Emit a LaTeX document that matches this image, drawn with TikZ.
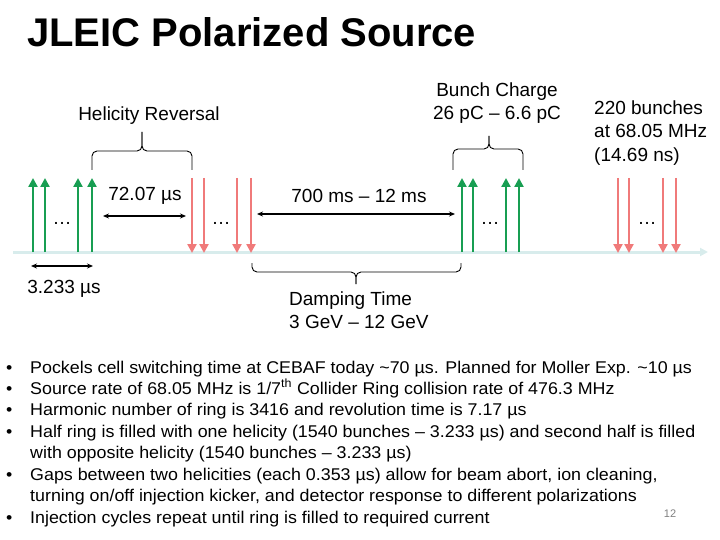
\documentclass[tikz,border=0pt]{standalone}
\usepackage{fontspec}
\setmainfont{Liberation Sans}
\newfontfamily\notefont[FakeStretch=1.05]{Liberation Sans}
\usetikzlibrary{arrows.meta}
\definecolor{bunchgreen}{RGB}{24,158,82}
\definecolor{bunchred}{RGB}{240,122,122}
\definecolor{axiscol}{RGB}{216,236,236}

\begin{document}
\begin{tikzpicture}[x=1pt,y=-1pt]
        \tikzset{bunchup/.style = {-{Triangle[width=9pt,length=9pt]}, line width=2.6pt, bunchgreen}}
        \tikzset{bunchdown/.style = {-{Triangle[width=9pt,length=9pt]}, line width=2.6pt, bunchred}}
        \tikzset{dimline/.style = {{Stealth[length=6pt,width=5pt]}-{Stealth[length=6pt,width=5pt]}, line width=1.1pt}}
        \tikzset{txt/.style = {font=\fontsize{19}{23.5}\selectfont, align=center, inner sep=0pt}}
        \tikzset{bracket/.style = {draw, line width=0.9pt, rounded corners=5pt}}
        \tikzset{bullet/.style = {font=\notefont\fontsize{17}{20}\selectfont, anchor=base west, inner sep=0pt}}
        \useasboundingbox (0,0) rectangle (720,540);
        % title
        \node[font=\bfseries\fontsize{40}{48}\selectfont, anchor=base west, inner sep=0pt] (title) at (27,47) {JLEIC Polarized Source};
        % time axis
        \coordinate (t0) at (13,252);
        \coordinate (t1) at (708,252);
        \draw[axiscol, line width=3pt, -{Triangle[width=8pt,length=8pt]}] (t0) -- (t1);
        % bunches
        \foreach \x in {33,45,78,92,462,473,506,519}
            \draw[bunchup] (\x,252) -- (\x,178);
        \foreach \x in {192,204,237,251,618,629,663,676}
            \draw[bunchdown] (\x,178) -- (\x,253);
        \node[txt] (dots1) at (62,223) {…};
        \node[txt] (dots2) at (221,223) {…};
        \node[txt] (dots3) at (490,223) {…};
        \node[txt] (dots4) at (647,223) {…};
        % labels
        \node[txt] (gap) at (145,196) {72.07 µs};
        \node[txt] (inject) at (359,196) {700 ms – 12 ms};
        \node[txt] (train) at (64,289) {3.233 µs};
        \node[txt] (helicity) at (149,116) {Helicity Reversal};
        \node[txt] (charge) at (497,103) {Bunch Charge\\26 pC – 6.6 pC};
        \node[txt, align=left, anchor=west] (rate) at (594,133) {220 bunches\\at 68.05 MHz\\(14.69 ns)};
        \node[txt, align=left, anchor=west] (damping) at (289,310) {Damping Time\\3 GeV – 12 GeV};
        % spans
        \coordinate (gapl) at (103,216);
        \coordinate (gapr) at (186,216);
        \coordinate (injl) at (257,214);
        \coordinate (injr) at (455,214);
        \coordinate (trl) at (31,266);
        \coordinate (trr) at (93,266);
        \draw[dimline] (gapl) -- (gapr);
        \draw[dimline] (injl) -- (injr);
        \draw[dimline] (trl) -- (trr);
        % braces
        \draw[bracket] (92,170) |- (142,151) -- (142,132);
        \draw[bracket] (192,170) |- (142,151) -- (142,132);
        \draw[bracket] (453,170) |- (489,149) -- (489,136);
        \draw[bracket] (523,170) |- (489,149) -- (489,136);
        \draw[bracket] (252,263) |- (356,272) -- (356,284);
        \draw[bracket] (461,263) |- (356,272) -- (356,284);
        % notes
        \node[bullet] (p1) at (6,373) {•};
        \node[bullet] (p2) at (6,394) {•};
        \node[bullet] (p3) at (6,415) {•};
        \node[bullet] (p4) at (6,437) {•};
        \node[bullet] (p5) at (6,480) {•};
        \node[bullet] (p6) at (6,523) {•};
        \node[bullet] (n1) at (30,373) {Pockels cell switching time at CEBAF today \textasciitilde70 µs. Planned for Moller Exp. \textasciitilde10 µs};
        \node[bullet] (n2) at (30,394) {Source rate of 68.05 MHz is 1/7\textsuperscript{th} Collider Ring collision rate of 476.3 MHz};
        \node[bullet] (n3) at (30,415) {Harmonic number of ring is 3416 and revolution time is 7.17 µs};
        \node[bullet] (n4) at (30,437) {Half ring is filled with one helicity (1540 bunches – 3.233 µs) and second half is filled};
        \node[bullet] (n4b) at (30,458) {with opposite helicity (1540 bunches – 3.233 µs)};
        \node[bullet] (n5) at (30,480) {Gaps between two helicities (each 0.353 µs) allow for beam abort, ion cleaning,};
        \node[bullet] (n5b) at (30,501) {turning on/off injection kicker, and detector response to different polarizations};
        \node[bullet] (n6) at (30,523) {Injection cycles repeat until ring is filled to required current};
        \node[font=\fontsize{11}{13}\selectfont, text=gray, inner sep=0pt] (page) at (670,514) {12};
\end{tikzpicture}
\end{document}
